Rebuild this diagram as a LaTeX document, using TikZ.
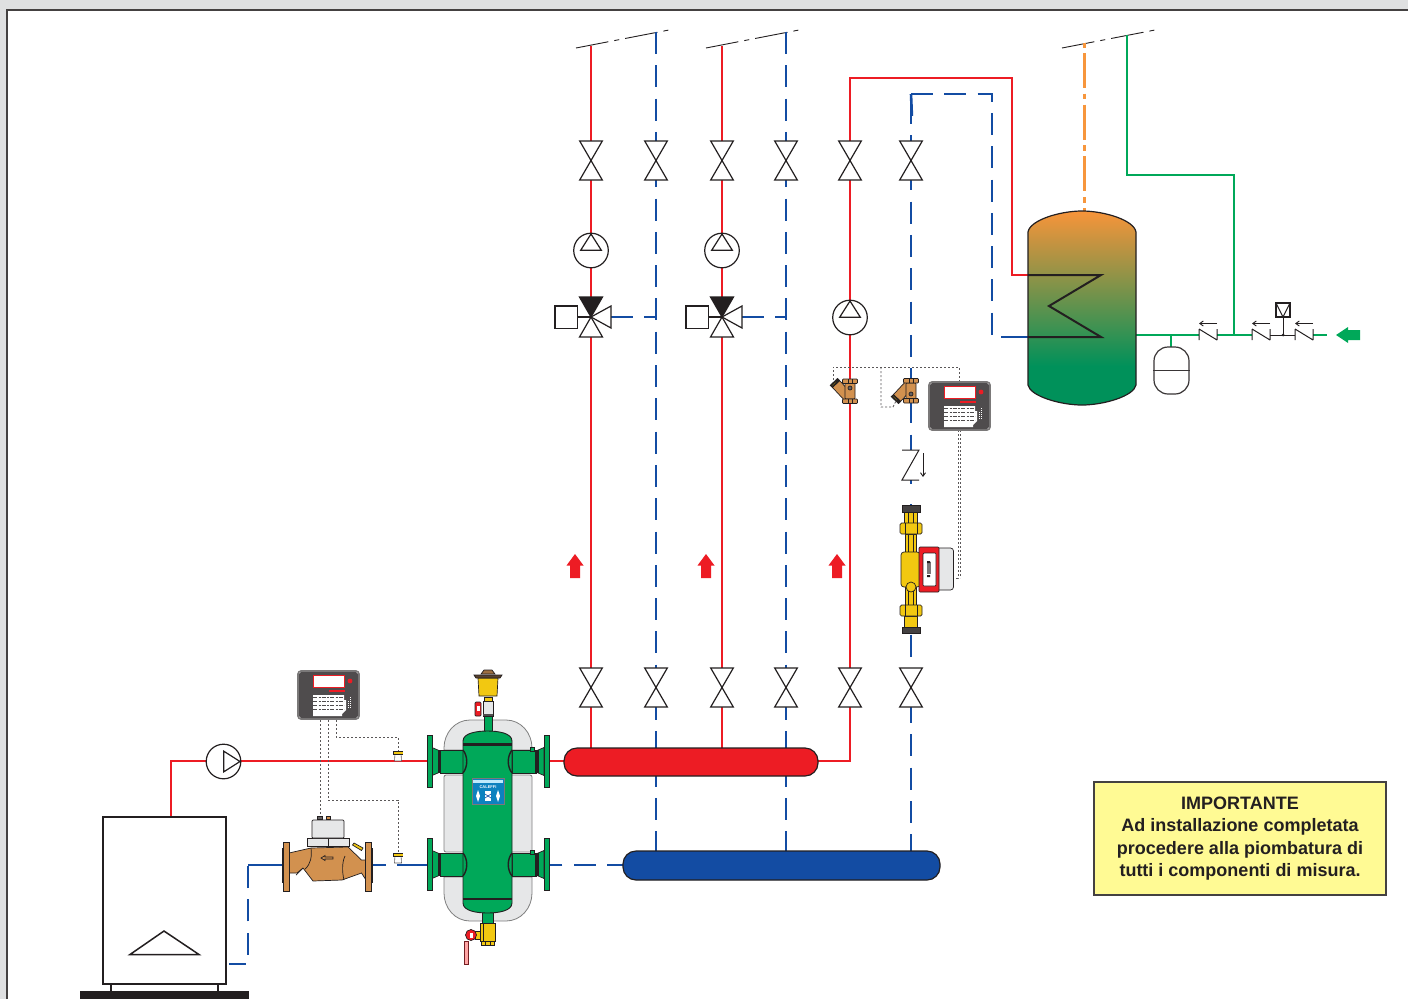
\documentclass[tikz,border=0pt]{standalone}
\usepackage{fontspec}
\setmainfont{Liberation Sans}
\usetikzlibrary{arrows.meta,calc}
\definecolor{hot}{HTML}{ED1C24}
\definecolor{cold}{HTML}{134CA3}
\definecolor{gr}{HTML}{00A859}
\definecolor{orng}{HTML}{F7963C}
\definecolor{brass}{HTML}{D2914F}
\definecolor{yel}{HTML}{F2C811}
\definecolor{ins}{HTML}{E6E7E8}
\definecolor{dk}{HTML}{231F20}
\definecolor{tankg}{HTML}{00915A}
\definecolor{tanko}{HTML}{F7943A}
\pgfdeclareverticalshading{tankshade}{100bp}{color(0bp)=(tankg); color(35bp)=(tankg); color(75bp)=(tanko); color(100bp)=(tanko)}
\tikzset{
  x=1pt,y=-1pt,
  sym/.style={draw=dk,line width=1.2pt,fill=white,line join=miter},
  hotpipe/.style={draw=hot,line width=2.6pt},
  coldpipe/.style={draw=cold,line width=2.6pt,dash pattern=on 22pt off 11.3pt},
  coldsolid/.style={draw=cold,line width=2.6pt},
  grpipe/.style={draw=gr,line width=2.6pt},
  wire/.style={draw=dk!75,line width=.8pt,dash pattern=on 2.2pt off 1.8pt},
  riser/.style={draw=dk,line width=.9pt,dash pattern=on 33pt off 6pt on 5pt off 6pt},
  part/.style={draw=dk,line width=.7pt},
  pics/isovalve/.style={code={
    \draw[sym] (-11.3,-19.5) -- (11.3,-19.5) -- (-11.3,19.5) -- (11.3,19.5) -- cycle;
  }},
  pics/pumpup/.style={code={
    \draw[sym] (0,0) circle (17.3);
    \draw[sym,fill=none] (0,-16.5) -- (10.3,-.3) -- (-10.3,-.3) -- cycle;
  }},
  pics/pumpright/.style={code={
    \draw[sym] (0,0) circle (17.3);
    \draw[sym,fill=none] (16.5,0) -- (.3,10.3) -- (.3,-10.3) -- cycle;
  }},
  pics/mixvalve/.style={code={
    \draw[sym] (-36,-11) rectangle (-13.4,11.5);
    \draw[sym] (-13.4,0) -- (0,0);
    \draw[sym] (0,0) -- (20,-11) -- (20,11) -- cycle;
    \draw[sym] (0,0) -- (11.5,20) -- (-11.5,20) -- cycle;
    \draw[sym,fill=dk] (0,0) -- (11.5,-20) -- (-11.5,-20) -- cycle;
  }},
  pics/checkval/.style={code={
    \fill[white] (0,-5.5) rectangle (18,5.5);
    \draw[draw=dk,line width=1pt] (0,-5.5) -- (0,5.5) (0,-5.5) -- (18,5.5) (18,-5.5) -- (18,5.5);
    \draw[draw=dk,line width=.9pt,-{Straight Barb[length=3.5pt,width=5pt]}] (18,-11) -- (0,-11);
  }},
  pics/redarrow/.style={code={
    \fill[hot] (0,-11.5) -- (8.5,0) -- (5,0) -- (5,12.5) -- (-5,12.5) -- (-5,0) -- (-8.5,0) -- cycle;
  }},
  pics/display/.style={code={
    \draw[draw=dk!60,line width=1.6pt,fill=white,rounded corners=3pt] (0,0) rectangle (61,48);
    \fill[rounded corners=2.5pt,fill=dk!80] (1,1) rectangle (60,47);
    \draw[draw=hot,line width=.9pt,fill=white] (15,4.5) rectangle (46,16);
    \fill[hot] (52,10) circle (2.4);
    \draw[draw=hot,line width=1.1pt] (31,20) -- (47,20);
    \fill[white] (15,24) -- (46,24) -- (46,29) -- (48,29) -- (48,39) -- (44,43) -- (44,45) -- (15,45) -- cycle;
    \foreach \r in {22,26,30,34,38}{
      \draw[draw=dk!80,line width=.8pt,dash pattern=on 4pt off 1.5pt on 2pt off 1pt] (15,\r) -- (46,\r);
    }
    \draw[draw=white,line width=.8pt,dash pattern=on 1pt off 1pt] (52,26) -- (52,38);
    \draw[draw=white,line width=.8pt,dash pattern=on 1pt off 1pt] (50,30) -- (50,38);
  }},
  pics/probe/.style={code={
    \fill[white] (-3.5,2) rectangle (3.5,10);
    \draw[draw=dk!70,line width=.6pt] (-3,2) -- (-3.5,10) -- (3.5,10) -- (3,2);
    \fill[dk] (-5,0) rectangle (5,3.5);
    \fill[yel] (-4.5,.9) rectangle (4.5,2.6);
  }},
  pics/strainer/.style={code={
    \draw[part,fill=brass] (-10.4,-10.4) -- (3.6,4.6) -- (-3.6,11.4) -- (-17.6,-3.6) -- cycle;
    \draw[part,fill=dk] (-10.4,-10.4) -- (-12.4,-12.6) -- (-19.8,-5.7) -- (-17.6,-3.6) -- cycle;
    \draw[part,fill=yel] (-13.4,-10.2) -- (-18.5,-5.7) -- (-17.6,-4.8) -- (-12.6,-9.4) -- cycle;
    \draw[part,fill=brass,rounded corners=.8pt] (-5,-8) rectangle (5,8);
    \draw[part,fill=brass,rounded corners=.8pt] (-7.5,-12) rectangle (7.5,-7.5);
    \draw[part,fill=brass,rounded corners=.8pt] (-7.5,8) rectangle (7.5,12.5);
    \draw[part,fill=dk!70] (0,-3) circle (2);
    \draw[part] (-2,-12) -- (-2,-7.5) (2,-12) -- (2,-7.5) (-2,8) -- (-2,12.5) (2,8) -- (2,12.5);
  }},
}
\begin{document}
\begin{tikzpicture}
\useasboundingbox (0,0) rectangle (1408,999);
\fill[black!3!ins] (0,0) rectangle (1408,999);
\fill[white] (7,10) rectangle (1408,999);
\draw[draw=dk!85,line width=1.3pt] (7,999) -- (7,10) -- (1408,10);
% named points
\coordinate (r1t) at (591,46);   \coordinate (r1b) at (591,748);
\coordinate (r2t) at (722,46);   \coordinate (r2b) at (722,748);
\coordinate (b1t) at (656,32);   \coordinate (b1b) at (656,851);
\coordinate (b2t) at (786,32);   \coordinate (b2b) at (786,851);
\coordinate (b3t) at (911,94);   \coordinate (b3b) at (911,851);
\coordinate (boilerout) at (171,817);
\coordinate (boilerin) at (229,964);
% riser stubs
\draw[riser] (576,48) -- (669,30);
\draw[riser] (706,48) -- (799,30);
\draw[riser] (1062,48) -- (1155,30);
% pipes
\draw[hotpipe] (r1t) -- (r1b);
\draw[hotpipe] (r2t) -- (r2b);
\draw[coldpipe] (b1t) -- (b1b);
\draw[coldpipe] (b2t) -- (b2b);
\draw[coldpipe,dash phase=25.6pt] (b3t) -- (b3b);
\draw[coldpipe] (b3t) -- (b3t |- 118,94) -- (992,94) -- (992,337) -- (1005,337);
\draw[coldpipe] (b3t) -- (912,118);
\draw[coldsolid] (1005,337) -- (1028,337);
\draw[hotpipe,line join=miter] (1028,275) -- (1012,275) -- (1012,78) -- (850,78) -- (850,761) -- (817,761);
\draw[hotpipe,line join=miter] (boilerout) -- (171,761) -- (564,761);
\draw[coldpipe] (611,317) -- (656,317);
\draw[coldpipe] (742,317) -- (786,317);
\draw[coldsolid,dash pattern=on 22pt off 11.3pt,dash phase=6pt] (623,865) -- (549,865);
\draw[coldsolid] (372,865) -- (386,865);
\draw[coldsolid] (397,865) -- (427,865);
\draw[coldsolid] (248,865) -- (282,865);
\draw[coldpipe,dash phase=5pt] (boilerin) -- (248,964) -- (248,865);
\draw[coldsolid] (226,865) (248,865) -- (262,865);
% DHW side
\draw[draw=orng,line width=2.6pt,dash pattern=on 35pt off 5.7pt on 5.5pt off 5.5pt,dash phase=41.7pt] (1084.5,43) -- (1084.5,211);
\draw[grpipe,line join=miter] (1127,35) -- (1127,175) -- (1234,175) -- (1234,335);
\draw[grpipe] (1136,335) -- (1270,335);
\draw[grpipe] (1313,335) -- (1327,335);
\draw[draw=dk,line width=1pt] (1270,335) -- (1295,335);
\draw[grpipe] (1171,335) -- (1171,347);
% tank
\path[shading=tankshade,draw=dk,line width=1.2pt] (1028,232) .. controls (1030,220) and (1060,211) .. (1082,211) .. controls (1104,211) and (1134,220) .. (1136,232) -- (1136,385) .. controls (1134,396) and (1104,405) .. (1082,405) .. controls (1060,405) and (1030,396) .. (1028,385) -- cycle;
\draw[draw=dk,line width=2pt,line join=miter] (1028,275) -- (1101,275) -- (1049,306) -- (1101,337) -- (1028,337);
% expansion vessel
\node[draw=dk!90,line width=1.2pt,fill=white,rounded corners=14pt,minimum width=35pt,minimum height=47pt,inner sep=0pt] (vessel) at (1171.5,370.5) {};
\draw[draw=dk!90,line width=1.2pt] (vessel.west) -- (vessel.east);
% check valves and disconnector
\pic (cv1) at (1199,334.5) {checkval};
\pic (cv2) at (1252,334.5) {checkval};
\pic (cv3) at (1295,334.5) {checkval};
\draw[draw=dk,line width=1pt] (1283,317) -- (1283,335);
\fill[dk] (1283,335) circle (1.5);
\draw[draw=dk,line width=1.1pt,fill=white] (1276,303) rectangle (1290,317);
\draw[draw=dk,line width=1pt] (1276,303) -- (1283,317) -- (1290,303);
\fill[gr] (1336,335) -- (1348,327) -- (1348,330) -- (1360,330) -- (1360,340) -- (1348,340) -- (1348,343) -- cycle;
% isolating valves
\foreach \n/\p in {a/591,b/656,c/722,d/786,e/850,f/911}{
  \pic (top\n) at (\p,160.5) {isovalve};
  \pic (low\n) at (\p,687.5) {isovalve};
}
% pumps
\pic (p1) at (591,250.5) {pumpup};
\pic (p2) at (722,250.5) {pumpup};
\pic (p3) at (850,317.5) {pumpup};
\pic (p4) at (223.5,761.5) {pumpright};
\pic (m1) at (591,317) {mixvalve};
\pic (m2) at (722,317) {mixvalve};
% arrows
\pic (a1) at (575,565.5) {redarrow};
\pic (a2) at (706,565.5) {redarrow};
\pic (a3) at (837,565.5) {redarrow};
% manifolds
\node[draw=dk,line width=1.2pt,fill=hot,rounded corners=13pt,minimum width=254pt,minimum height=28pt,inner sep=0pt] (redman) at (691,762) {};
\node[draw=dk,line width=1.2pt,fill=cold,rounded corners=13pt,minimum width=317pt,minimum height=29pt,inner sep=0pt] (blueman) at (781.5,865.5) {};
% boiler
\draw[draw=dk,line width=1.2pt] (111,984) -- (111,992) (218,984) -- (218,992);
\node[draw=dk,line width=1.2pt,fill=white,minimum width=123pt,minimum height=167pt,inner sep=0pt] (boiler) at (164.5,900.5) {};
\draw[draw=dk,line width=1.5pt,line join=miter] (164,931) -- (199,954.5) -- (130,954.5) -- cycle;
\fill[dk] (80,991) rectangle (249,999);
% wires
\draw[wire] (320,720) -- (320,817);
\draw[wire] (328,720) -- (328,800) -- (398,800) -- (398,855);
\draw[wire] (336,720) -- (336,737) -- (398,737) -- (398,752);
\draw[wire] (833,380) -- (833,367) -- (959,367) -- (959,382);
\draw[wire] (881,367) -- (881,407) -- (893,407) -- (896,401);
\draw[wire] (958,430) -- (958,578) -- (953,578);
\draw[wire] (960,430) -- (960,578);
% displays
\pic (d1) at (298,671) {display};
\pic (d2) at (929,382) {display};
% probes
\pic (s1) at (398,751) {probe};
\pic (s2) at (398,853) {probe};
% strainers
\pic (st1) at (850,391) {strainer};
\pic[yscale=-1] (st2) at (911,391) {strainer};
% Z check valve
\fill[white] (902,450) rectangle (919,480);
\draw[draw=dk,line width=1pt] (902,450) -- (919,450) -- (902,480) -- (919,480);
\draw[draw=dk,line width=.9pt,-{Straight Barb[length=3.5pt,width=5pt]}] (923,453) -- (923,477);
% flow meter
\fill[white] (898,484) rectangle (925,504);
\draw[part,fill=ins,rounded corners=3pt] (936,548) rectangle (953.5,590);
\draw[part,fill=yel] (904,512) rectangle (917,523);
\draw[part,fill=yel] (905,534) rectangle (916,552);
\draw[part,fill=yel] (905,587) rectangle (916,605);
\draw[part,fill=yel] (904,616) rectangle (917,627);
\draw[part] (908,512) -- (908,523) (913,512) -- (913,523) (908,534) -- (908,552) (913,534) -- (913,552) (908,590) -- (908,605) (913,590) -- (913,605);
\draw[part,fill=dk!85] (902,505) rectangle (920,512);
\draw[part,fill=dk!85] (902,627) rectangle (920,633);
\draw[part,fill=yel,rounded corners=1.5pt] (900,523) rectangle (922,534);
\draw[part,fill=yel,rounded corners=1.5pt] (900,605) rectangle (922,616);
\draw[part] (905,523) -- (905,534) (917,523) -- (917,534) (905,605) -- (905,616) (917,605) -- (917,616);
\draw[part,fill=yel,rounded corners=3pt] (901,552) rectangle (920,587);
\draw[part,fill=yel] (911,587) circle (5);
\draw[part,fill=hot,rounded corners=1pt] (919,547) rectangle (939,592);
\draw[part,fill=white,rounded corners=1pt] (923,553) rectangle (936,586);
\fill[dk!60] (926.5,562) rectangle (930.5,574);
\fill[dk] (927,561) rectangle (930,563) (927,575) rectangle (930,577);
% separator: insulation
\tikzset{insul/.style={draw=black!50,line width=.8pt,fill=ins}}
\draw[insul] (444,750) -- (444,748) .. controls (444,733) and (455,720) .. (470,720) -- (506,720) .. controls (521,720) and (532,733) .. (532,748) -- (532,750) -- cycle;
\draw[insul,rounded corners=2pt] (444,775) rectangle (532,852);
\draw[insul] (444,877) -- (444,893) .. controls (444,908) and (455,921) .. (470,921) -- (506,921) .. controls (521,921) and (532,908) .. (532,893) -- (532,877) -- cycle;
\tikzset{grpart/.style={draw=dk,line width=.7pt,fill=gr}}
% stubs
\draw[grpart] (484,715) rectangle (492,732);
\draw[grpart] (482.5,912) rectangle (493,923);
% nozzles
\foreach \c/\f in {761.5/1,864.5/2}{
  \draw[grpart] (440,\c-11.5) -- (463,\c-11.5) -- (463,\c+11.5) -- (440,\c+11.5) -- cycle;
  \draw[grpart] (512,\c-11.5) -- (536,\c-11.5) -- (536,\c+11.5) -- (512,\c+11.5) -- cycle;
  \draw[grpart] (432,\c-14) -- (439,\c-11) -- (439,\c+11) -- (432,\c+14) -- cycle;
  \draw[grpart] (544,\c-14) -- (537,\c-11) -- (537,\c+11) -- (544,\c+14) -- cycle;
  \fill[dk] (437.5,\c-11.5) rectangle (441,\c+11.5);
  \fill[dk] (535,\c-11.5) rectangle (538.5,\c+11.5);
  \draw[grpart] (427,\c-26) rectangle (432,\c+26);
  \draw[grpart] (544,\c-26) rectangle (549,\c+26);
  \draw[grpart] (530,\c-14.5) rectangle (534,\c-10.5);
}
% separator body
\draw[grpart,line width=.9pt] (463,741) .. controls (463,733) and (477,731) .. (487.5,731) .. controls (498,731) and (512,733) .. (512,741) -- (512,903) .. controls (512,911) and (498,913) .. (487.5,913) .. controls (477,913) and (463,911) .. (463,903) -- cycle;
\fill[dk] (463,743) rectangle (512,745.5);
\fill[dk] (463,897.5) rectangle (512,900);
\foreach \c in {761.5,864.5}{
  \draw[draw=dk,line width=1.4pt] (463,\c-11.5) .. controls (468,\c-5) and (468,\c+5) .. (463,\c+11.5);
  \draw[draw=dk,line width=1.4pt] (512,\c-11.5) .. controls (507,\c-5) and (507,\c+5) .. (512,\c+11.5);
}
% label on separator
\node[draw=dk!60,line width=.5pt,fill=cold!70!cyan,minimum width=32pt,minimum height=26pt,inner sep=0pt] (label) at (488,791) {};
\fill[white!75!cyan] (473,779.5) rectangle (503,783);
\node[text=white,font=\fontsize{4}{4}\bfseries\selectfont,inner sep=0pt] (labeltxt) at (488,787) {CALEFFI};
\fill[white] (478,790) -- (480,796) -- (478,802) -- (476,796) -- cycle;
\fill[white] (498,790) -- (500,796) -- (498,802) -- (496,796) -- cycle;
\fill[white] (485,791) rectangle (491,801);
\draw[draw=cold,line width=.6pt] (485,794) -- (491,798) (491,794) -- (485,798);
% air vent
\draw[part,fill=ins] (483,701) rectangle (493,716);
\fill[dk!80] (483,714) rectangle (493,716);
\draw[part,fill=yel] (484,697) rectangle (492,701);
\draw[part,fill=yel] (478,678) -- (498,678) -- (497,696) -- (479,696) -- cycle;
\draw[part,fill=dk!70!brass] (474,675) -- (502,675) -- (500,678) -- (476,678) -- cycle;
\draw[part,fill=dk!30!brass] (481,674) -- (495,674) -- (492,670) -- (484,670) -- cycle;
\draw[part,fill=hot,rounded corners=1pt] (475,702) rectangle (481,716);
\fill[white] (477,706) rectangle (480,711);
% bottom ball valve
\draw[part,fill=yel] (475,931) rectangle (481,939);
\draw[part,fill=yel] (480,923) rectangle (495,941);
\draw[part,fill=yel] (481.5,941) rectangle (494,945);
\draw[part] (485,941) -- (485,945) (490,941) -- (490,945) (483,923) -- (483,941);
\draw[draw=dk!60!hot,line width=.7pt,fill=red!35] (464.5,941) rectangle (468,964);
\draw[part,fill=hot] (471,935) circle (5.5);
\fill[white] (470,933) rectangle (472.5,938);
% balancing valve
\draw[part,fill=brass] (289,853) -- (311,848) -- (348,847) -- (361.5,860) -- (366,860) -- (366,880) -- (361.5,873) -- (342,880) -- (313,881) -- (303,868) -- (297,873) -- (289,873) -- cycle;
\draw[part] (311,848) .. controls (312,856) and (311,864) .. (305,869);
\draw[part] (345,856) .. controls (342,862) and (342,872) .. (344,880);
\draw[part,fill=none] (303,868) -- (296,875);
\draw[part,fill=brass] (321,858) -- (325,855.5) -- (325,857) -- (333,857) -- (333,859) -- (325,859) -- (325,860.5) -- cycle;
\draw[part,fill=dk!85] (282,848) rectangle (284,882);
\draw[part,fill=brass] (283,842) rectangle (289,891);
\draw[part,fill=brass] (365,842) rectangle (371.5,891);
\draw[part,fill=dk!85] (371,848) rectangle (372.5,882);
\draw[part,fill=yel] (352.5,845) -- (354,843) -- (363,848) -- (361.5,850.5) -- cycle;
\draw[part,fill=ins] (307.5,838.5) rectangle (328,846);
\draw[part,fill=ins] (328,838.5) rectangle (349,846);
\draw[part,fill=ins,rounded corners=1pt] (312,838) -- (312,820) -- (344,820) -- (344,838) -- cycle;
\draw[part,fill=dk!70] (317.5,816) rectangle (322,819.5);
\draw[part,fill=brass] (326,816) rectangle (330.5,819.5);
% notice box
\node[draw=dk!85,line width=1.4pt,fill=yellow!42!white,minimum width=292pt,minimum height=113pt,inner sep=0pt,align=center,font=\fontsize{18}{22.5}\bfseries\selectfont,text=dk] (note) at (1240,838.5) {IMPORTANTE\\Ad installazione completata\\procedere alla piombatura di\\tutti i componenti di misura.};
\end{tikzpicture}
\end{document}
